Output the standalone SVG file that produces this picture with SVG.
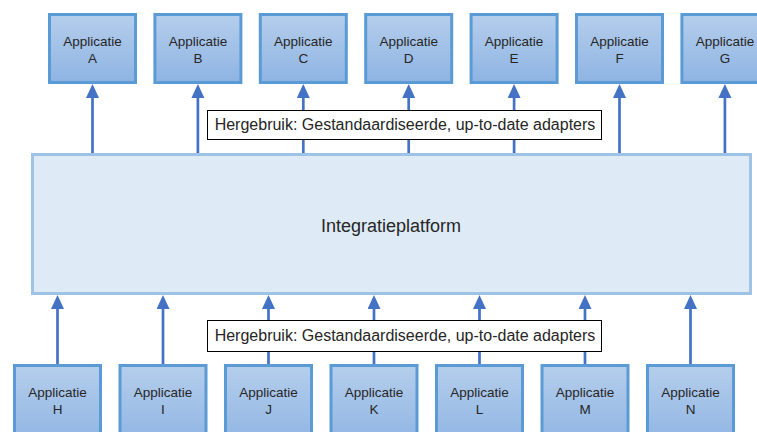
<svg xmlns="http://www.w3.org/2000/svg" width="757" height="432" viewBox="0 0 757 432">
<style>
.app{fill:url(#appGrad);stroke:#5B9BD5;stroke-width:3}
.apptxt{font-family:"Liberation Sans",Arial,sans-serif;font-size:13.5px;fill:#262626;text-anchor:middle}
.plat{fill:#DEEBF7;stroke:#9DC3E6;stroke-width:3}
.plattxt{font-family:"Liberation Sans",Arial,sans-serif;font-size:18px;fill:#262626;text-anchor:middle}
.lbl{fill:#FFFFFF;stroke:#000000;stroke-width:1}
.lbltxt{font-family:"Liberation Sans",Arial,sans-serif;font-size:16px;fill:#262626;text-anchor:middle}
.conn{fill:none;stroke:#4472C4;stroke-width:2.7;marker-end:url(#arrow)}
</style>
<defs>
<linearGradient id="appGrad" x1="0" y1="0" x2="0" y2="1">
<stop offset="0" stop-color="#B5CEEC"/>
<stop offset="1" stop-color="#8EB4E3"/>
</linearGradient>
<marker id="arrow" markerUnits="userSpaceOnUse" markerWidth="14" markerHeight="14" viewBox="0 0 14 14" refX="8" refY="6.5" orient="auto">
<path d="M0,0 L14,6.5 L0,13 Z" fill="#4472C4"/>
</marker>
</defs>
<rect width="757" height="432" fill="#FFFFFF"/>
<g id="connectors">
<path class="conn" d="M92.5,153 V90"/>
<path class="conn" d="M197.9,153 V90"/>
<path class="conn" d="M303.3,153 V90"/>
<path class="conn" d="M408.7,153 V90"/>
<path class="conn" d="M514.1,153 V90"/>
<path class="conn" d="M619.5,153 V90"/>
<path class="conn" d="M724.9,153 V90"/>
<path class="conn" d="M57.5,364 V301"/>
<path class="conn" d="M163,364 V301"/>
<path class="conn" d="M268.5,364 V301"/>
<path class="conn" d="M374,364 V301"/>
<path class="conn" d="M479.5,364 V301"/>
<path class="conn" d="M585,364 V301"/>
<path class="conn" d="M690.5,364 V301"/>
</g>
<g id="platform">
<rect class="plat" x="32.5" y="154.5" width="718" height="139"/>
<text class="plattxt" x="391" y="231.5">Integratieplatform</text>
</g>
<g id="label-top">
<rect class="lbl" x="207.5" y="110.5" width="394" height="29"/>
<text class="lbltxt" x="405" y="129.5">Hergebruik: Gestandaardiseerde, up-to-date adapters</text>
</g>
<g id="label-bottom">
<rect class="lbl" x="207.5" y="320.5" width="394" height="31"/>
<text class="lbltxt" x="405" y="340.5">Hergebruik: Gestandaardiseerde, up-to-date adapters</text>
</g>
<g id="app-A"><rect class="app" x="49.5" y="14.5" width="86" height="68"/><text class="apptxt" x="92.5" y="46">Applicatie</text><text class="apptxt" x="92.5" y="63">A</text></g>
<g id="app-B"><rect class="app" x="154.9" y="14.5" width="86" height="68"/><text class="apptxt" x="197.9" y="46">Applicatie</text><text class="apptxt" x="197.9" y="63">B</text></g>
<g id="app-C"><rect class="app" x="260.3" y="14.5" width="86" height="68"/><text class="apptxt" x="303.3" y="46">Applicatie</text><text class="apptxt" x="303.3" y="63">C</text></g>
<g id="app-D"><rect class="app" x="365.7" y="14.5" width="86" height="68"/><text class="apptxt" x="408.7" y="46">Applicatie</text><text class="apptxt" x="408.7" y="63">D</text></g>
<g id="app-E"><rect class="app" x="471.1" y="14.5" width="86" height="68"/><text class="apptxt" x="514.1" y="46">Applicatie</text><text class="apptxt" x="514.1" y="63">E</text></g>
<g id="app-F"><rect class="app" x="576.5" y="14.5" width="86" height="68"/><text class="apptxt" x="619.5" y="46">Applicatie</text><text class="apptxt" x="619.5" y="63">F</text></g>
<g id="app-G"><rect class="app" x="681.9" y="14.5" width="86" height="68"/><text class="apptxt" x="724.9" y="46">Applicatie</text><text class="apptxt" x="724.9" y="63">G</text></g>
<g id="app-H"><rect class="app" x="14.5" y="365.5" width="86" height="80"/><text class="apptxt" x="57.5" y="397">Applicatie</text><text class="apptxt" x="57.5" y="414">H</text></g>
<g id="app-I"><rect class="app" x="120" y="365.5" width="86" height="80"/><text class="apptxt" x="163" y="397">Applicatie</text><text class="apptxt" x="163" y="414">I</text></g>
<g id="app-J"><rect class="app" x="225.5" y="365.5" width="86" height="80"/><text class="apptxt" x="268.5" y="397">Applicatie</text><text class="apptxt" x="268.5" y="414">J</text></g>
<g id="app-K"><rect class="app" x="331" y="365.5" width="86" height="80"/><text class="apptxt" x="374" y="397">Applicatie</text><text class="apptxt" x="374" y="414">K</text></g>
<g id="app-L"><rect class="app" x="436.5" y="365.5" width="86" height="80"/><text class="apptxt" x="479.5" y="397">Applicatie</text><text class="apptxt" x="479.5" y="414">L</text></g>
<g id="app-M"><rect class="app" x="542" y="365.5" width="86" height="80"/><text class="apptxt" x="585" y="397">Applicatie</text><text class="apptxt" x="585" y="414">M</text></g>
<g id="app-N"><rect class="app" x="647.5" y="365.5" width="86" height="80"/><text class="apptxt" x="690.5" y="397">Applicatie</text><text class="apptxt" x="690.5" y="414">N</text></g>
</svg>
